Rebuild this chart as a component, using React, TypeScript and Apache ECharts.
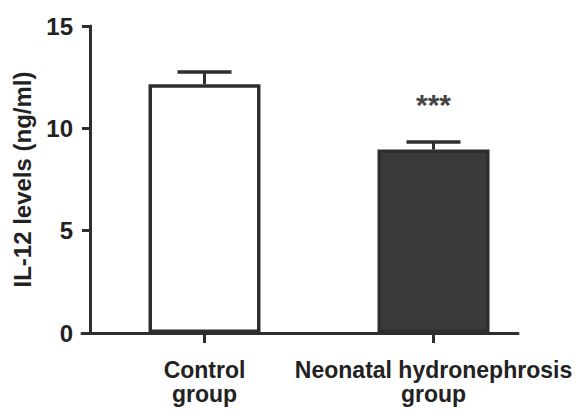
import React, { useEffect, useRef } from 'react';
import * as echarts from 'echarts';

const categories = ['Control\ngroup', 'Neonatal hydronephrosis\ngroup'];
const means = [12.16, 8.96];
const sems = [0.59, 0.37];
const significance = ['', '***'];
const yMin = 0;
const yMax = 15;
const yInterval = 5;
const yTitle = 'IL-12 levels (ng/ml)';

export default function App() {
  const ref = useRef<HTMLDivElement>(null);
  useEffect(() => {
    const chart = echarts.init(ref.current!, null, { renderer: 'svg' });
    const font = "'Liberation Sans', Arial, Helvetica, sans-serif";
    const ink = '#2e2e2e';
    const fills = ['#ffffff', '#3a3a3a'];
    chart.setOption({
      animation: false,
      grid: [
        { left: 90, right: 37, top: 26, bottom: 78 },
        { left: 82, right: 67, top: 26, bottom: 78 },
      ],
      xAxis: [
        {
          type: 'category',
          gridIndex: 0,
          data: categories,
          axisLine: { show: false },
          axisTick: { show: true, alignWithLabel: true, length: 10, lineStyle: { color: ink, width: 3 } },
          axisLabel: {
            interval: 0,
            margin: 25,
            fontFamily: font,
            fontSize: 23,
            fontWeight: 'bold',
            lineHeight: 24,
            color: '#222',
          },
          splitLine: { show: false },
        },
        {
          type: 'value',
          gridIndex: 1,
          min: 0,
          max: 1,
          z: 5,
          axisLine: { show: true, onZero: false, lineStyle: { color: ink, width: 3 } },
          axisTick: { show: false },
          axisLabel: { show: false },
          splitLine: { show: false },
        },
      ],
      yAxis: [
        {
          type: 'value',
          gridIndex: 0,
          min: yMin,
          max: yMax,
          interval: yInterval,
          name: yTitle,
          nameLocation: 'middle',
          nameGap: 56,
          nameTextStyle: { fontFamily: font, fontSize: 24, fontWeight: 'bold', color: '#222' },
          axisLine: { show: true, lineStyle: { color: ink, width: 3 } },
          axisTick: { show: true, length: 8, lineStyle: { color: ink, width: 3 } },
          axisLabel: { margin: 17, fontFamily: font, fontSize: 24, fontWeight: 'bold', color: '#222' },
          splitLine: { show: false },
        },
        { type: 'value', gridIndex: 1, min: yMin, max: yMax, show: false },
      ],
      series: [
        {
          type: 'bar',
          xAxisIndex: 0,
          yAxisIndex: 0,
          barWidth: 112,
          data: means.map((m, i) => ({
            value: m,
            itemStyle: { color: fills[i], borderColor: ink, borderWidth: 3.5 },
          })),
        },
        {
          type: 'custom',
          xAxisIndex: 0,
          yAxisIndex: 0,
          data: means.map((m, i) => [i, m, m + sems[i]]),
          renderItem: (params: any, api: any) => {
            const base = api.coord([api.value(0), api.value(1)]);
            const top = api.coord([api.value(0), api.value(2)]);
            const half = 27;
            const children: any[] = [
              { type: 'line', shape: { x1: base[0], y1: base[1], x2: top[0], y2: top[1] }, style: { stroke: ink, lineWidth: 3 } },
              { type: 'line', shape: { x1: top[0] - half, y1: top[1], x2: top[0] + half, y2: top[1] }, style: { stroke: ink, lineWidth: 3.5 } },
            ];
            const sig = significance[params.dataIndex];
            if (sig) {
              children.push({
                type: 'text',
                x: top[0],
                y: top[1] - 38,
                style: {
                  text: sig,
                  align: 'center',
                  verticalAlign: 'middle',
                  fontFamily: font,
                  fontSize: 30,
                  fontWeight: 'bold',
                  fill: '#444',
                },
              });
            }
            return { type: 'group', children };
          },
        },
      ],
    });
    return () => chart.dispose();
  }, []);
  return <div ref={ref} style={{ position: 'fixed', left: 0, top: 0, width: 585, height: 411, background: '#fff' }} />;
}
